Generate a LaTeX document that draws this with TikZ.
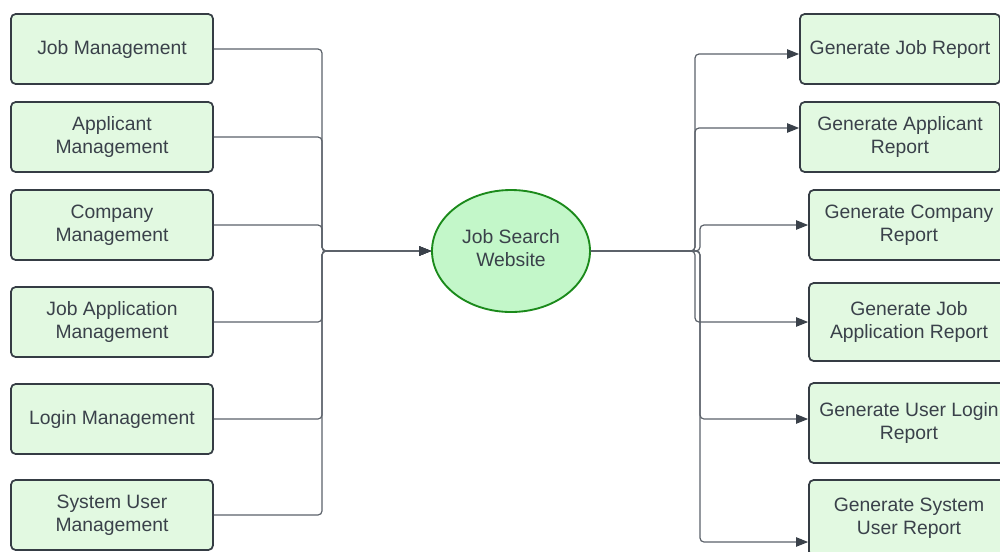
\documentclass[tikz,border=0pt]{standalone}
\usepackage{fontspec}
\setmainfont{Liberation Sans}
\usetikzlibrary{shapes.geometric,arrows.meta,calc}
\definecolor{boxfill}{HTML}{E2F9E1}
\definecolor{boxline}{HTML}{353C44}
\definecolor{txt}{HTML}{3A414A}
\definecolor{linkc}{HTML}{5C626A}
\definecolor{tipc}{HTML}{3A414A}
\definecolor{hubfill}{HTML}{C3F7C9}
\definecolor{hubline}{HTML}{1B8A1B}
\tikzset{
  box/.style={draw=boxline, fill=boxfill, rounded corners=3.5pt, line width=1.3pt,
    align=center, text=txt, font=\fontsize{14.5}{17.5}\selectfont, inner sep=0pt,
    minimum width=151.5pt, minimum height=52.5pt},
  hub/.style={ellipse, draw=hubline, fill=hubfill, line width=1.4pt, align=center,
    text=txt, font=\fontsize{14.5}{17.5}\selectfont, inner sep=0pt, text depth=4.5pt,
    minimum width=118.5pt, minimum height=91.5pt},
  link/.style={draw=linkc, line width=0.9pt, rounded corners=3pt},
  arr/.style={link, -{Triangle[length=9pt,width=7pt,color=tipc]}}
}
\begin{document}
\begin{tikzpicture}[x=0.75pt,y=-0.75pt]
\useasboundingbox (0,0) rectangle (1000,551);
\clip (0,0) rectangle (1000,551);
\fill[white] (0,0) rectangle (1000,551);

% management modules
\node[box] (m1) at (112,49) {Job Management};
\node[box] (m2) at (112,137) {Applicant\\Management};
\node[box] (m3) at (112,225) {Company\\Management};
\node[box] (m4) at (112,322) {Job Application\\Management};
\node[box] (m5) at (112,419) {Login Management};
\node[box] (m6) at (112,515) {System User\\Management};

% central system
\node[hub] (web) at (511,251) {Job Search\\Website};

% reports
\node[box, minimum width=150pt] (r1) at (900,49) {Generate Job Report};
\node[box, minimum width=150pt] (r2) at (900,137) {Generate Applicant\\Report};
\node[box, minimum width=150pt] (r3) at (909,225) {Generate Company\\Report};
\node[box, minimum width=150pt, minimum height=58.5pt] (r4) at (909,322) {Generate Job\\Application Report};
\node[box, minimum width=150pt, minimum height=60pt] (r5) at (909,423) {Generate User Login\\Report};
\node[box, minimum width=150pt, minimum height=57pt] (r6) at (909,518) {Generate System\\User Report};

% modules feed the website
\foreach \m in {m1,m2,m3,m4,m5,m6}
  \draw[arr] (\m.east) -| (322,251) -- (web.west);

% website produces reports
\draw[arr] (web.east) -- (695,251) |- ($(r1.west)+(0,5)$);
\draw[arr] (web.east) -- (695,251) |- ($(r2.west)+(0,-9)$);
\draw[arr] (web.east) -- (700,251) |- (r3.west);
\draw[arr] (web.east) -- (695,251) |- (r4.west);
\draw[arr] (web.east) -- (700,251) |- ($(r5.west)+(0,-4)$);
\draw[arr] (web.east) -- (700,251) |- ($(r6.west)+(0,24)$);
\end{tikzpicture}
\end{document}
